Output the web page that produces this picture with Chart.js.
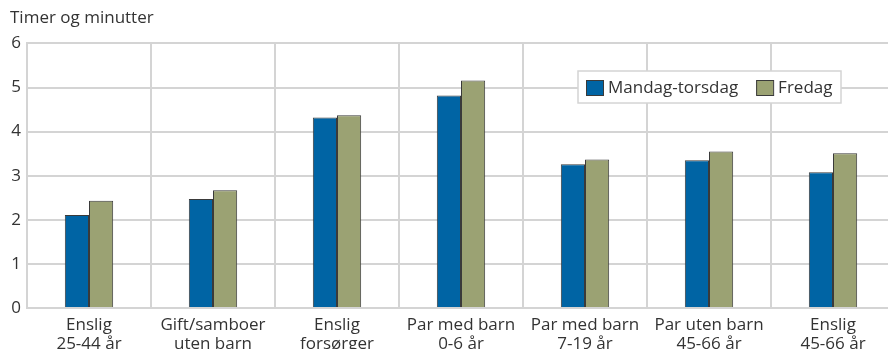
<!DOCTYPE html>
<html>
<head>
<meta charset="utf-8">
<script src="https://cdn.jsdelivr.net/npm/chart.js@4/dist/chart.umd.min.js"></script>
<style>
  html, body { margin: 0; padding: 0; background: #fff; overflow: hidden; }
  #wrap { position: relative; width: 900px; height: 349px; }
</style>
</head>
<body>
<div id="wrap"><canvas id="chart"></canvas></div>
<script>
// Kategorier (to linjer per etikett)
const categories = [
    ['Enslig', '25-44 år'],
    ['Gift/samboer', 'uten barn'],
    ['Enslig', 'forsørger'],
    ['Par med barn', '0-6 år'],
    ['Par med barn', '7-19 år'],
    ['Par uten barn', '45-66 år'],
    ['Enslig', '45-66 år']
];
const mandagTorsdag = [2.11, 2.47, 4.32, 4.82, 3.26, 3.35, 3.08];
const fredag = [2.43, 2.67, 4.37, 5.16, 3.37, 3.55, 3.51];
const yTicks = [0, 1, 2, 3, 4, 5, 6];

const colors = {
    blue: '#0064a4',
    green: '#9ba273',
    edge: '#3a3a3a',
    grid: '#d4d4d4',
    text: '#333333'
};
const font = "'Open Sans', 'Noto Sans', sans-serif";

// Legende inne i plottet, med ramme
const boxLegend = {
    id: 'boxLegend',
    afterDraw(chart) {
        const ctx = chart.ctx;
        const x = 578, y = 71, w = 263, h = 32;
        ctx.save();
        ctx.fillStyle = '#fff';
        ctx.fillRect(x, y, w, h);
        ctx.strokeStyle = '#d4d4d4';
        ctx.lineWidth = 1.5;
        ctx.strokeRect(x, y, w, h);
        ctx.font = '17px ' + font;
        ctx.textBaseline = 'middle';
        let cx = x + 8;
        chart.data.datasets.forEach(ds => {
            ctx.fillStyle = ds.backgroundColor;
            ctx.fillRect(cx, y + 9, 17, 15);
            ctx.strokeStyle = colors.edge;
            ctx.lineWidth = 1;
            ctx.strokeRect(cx + 0.5, y + 9.5, 17, 15);
            ctx.fillStyle = colors.text;
            ctx.fillText(ds.label, cx + 22, y + 17);
            cx += 22 + ctx.measureText(ds.label).width + 18;
        });
        ctx.restore();
    }
};

new Chart(document.getElementById('chart'), {
    type: 'bar',
    data: {
        labels: categories,
        datasets: [{
            label: 'Mandag-torsdag',
            data: mandagTorsdag,
            backgroundColor: colors.blue,
            borderColor: colors.edge,
            borderWidth: 1
        }, {
            label: 'Fredag',
            data: fredag,
            backgroundColor: colors.green,
            borderColor: colors.edge,
            borderWidth: 1
        }]
    },
    options: {
        responsive: true,
        maintainAspectRatio: false,
        animation: false,
        layout: { padding: { left: 10, right: 5 } },
        datasets: {
            bar: { categoryPercentage: 0.39, barPercentage: 1 }
        },
        plugins: {
            legend: { display: false },
            tooltip: { enabled: false },
            title: {
                display: true,
                text: 'Timer og minutter',
                align: 'start',
                color: colors.text,
                font: { family: font, size: 17, weight: 'normal', lineHeight: 1.2 },
                padding: { top: 8, bottom: 15 }
            }
        },
        scales: {
            x: {
                grid: { color: colors.grid, lineWidth: 2, drawTicks: false },
                border: { color: colors.grid, width: 2 },
                ticks: {
                    color: colors.text,
                    font: { family: font, size: 17, lineHeight: 1.15 },
                    padding: 7,
                    maxRotation: 0,
                    autoSkip: false
                },
                afterFit(scale) { scale.height = 41; }
            },
            y: {
                min: 0,
                max: 6,
                grid: { color: colors.grid, lineWidth: 2, drawTicks: false },
                border: { color: colors.grid, width: 2 },
                afterBuildTicks(scale) { scale.ticks = yTicks.map(v => ({ value: v })); },
                ticks: {
                    color: colors.text,
                    font: { family: font, size: 17 },
                    padding: 6
                },
                afterFit(scale) { scale.width = 17; }
            }
        }
    },
    plugins: [boxLegend]
});
</script>
</body>
</html>
